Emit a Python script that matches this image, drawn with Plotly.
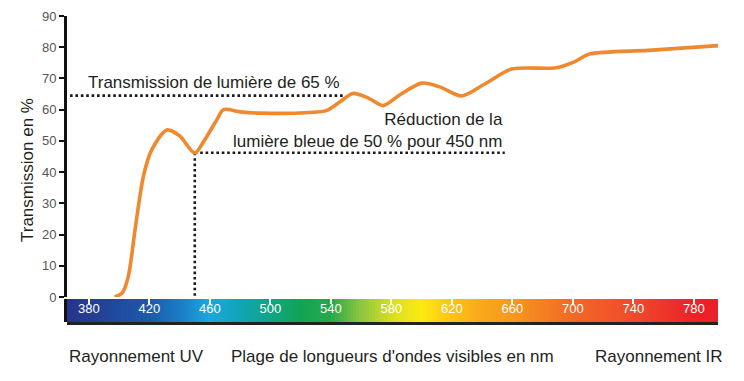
import numpy as np
import plotly.graph_objects as go

# ---- data ----
wavelength_nm = [397, 402, 406, 410.5, 416, 421.5, 431.5, 440, 450, 456.5, 464.5, 469,
                 480, 493, 526, 537, 546, 554.5, 564.5, 574.5, 585.5, 600, 612, 626.5,
                 642, 659.5, 689, 701, 711, 750, 796]
transmission_pct = [0, 1.3, 6.5, 21.5, 38.6, 47.1, 53.5, 51.6, 46.1, 50.3, 56.7, 60,
                    59.3, 58.9, 59.1, 59.7, 62.5, 65.2, 63.8, 61.3, 64.7, 68.5, 67.3, 64.4,
                    68.3, 73, 73.4, 75.3, 77.8, 79.0, 80.5]

light_line_x = [367.5, 549]
light_line_y = [64.5, 64.5]
blue_h_x = [450, 655]
blue_h_y = [46.2, 46.2]
blue_v_x = [450, 450]
blue_v_y = [46.2, 0.4]

y_ticks = [0, 10, 20, 30, 40, 50, 60, 70, 80, 90]
x_ticks = [380, 420, 460, 500, 540, 580, 620, 660, 700, 740, 780]

spectrum_nm = list(range(366, 797, 2))
spectrum_colors = [
    (366, "#27338a"), (380, "#243d93"), (420, "#1c5aa9"), (440, "#1b7cc4"),
    (460, "#1ba7df"), (480, "#11a4b6"), (500, "#0ea584"), (520, "#12a455"),
    (540, "#27a84a"), (560, "#8cc63f"), (580, "#d7df23"), (600, "#fdea10"),
    (620, "#fcc316"), (640, "#f9a81b"), (660, "#f7971d"), (700, "#f26824"),
    (740, "#ef4a2c"), (780, "#ec2227"), (796, "#e9202a"),
]

X_RANGE = [365.5, 796]
FONT = "Liberation Sans, Arial, Helvetica, sans-serif"
TXT = "#231f20"

lo, hi = spectrum_colors[0][0], spectrum_colors[-1][0]
colorscale = [[(w - lo) / (hi - lo), c] for w, c in spectrum_colors]

fig = go.Figure()

# spectrum bar
fig.add_trace(go.Heatmap(
    x=spectrum_nm, y=[0.5], z=[spectrum_nm], colorscale=colorscale,
    zmin=lo, zmax=hi, showscale=False, xaxis="x2", yaxis="y2", hoverinfo="skip",
))

dot = dict(color="#1a1a1a", width=2.6, dash="2.6px,2.8px")
fig.add_trace(go.Scatter(x=light_line_x, y=light_line_y, mode="lines", line=dot, hoverinfo="skip"))
fig.add_trace(go.Scatter(x=blue_h_x, y=blue_h_y, mode="lines", line=dot, hoverinfo="skip"))
fig.add_trace(go.Scatter(x=blue_v_x, y=blue_v_y, mode="lines", line=dot, hoverinfo="skip"))

fig.add_trace(go.Scatter(
    x=wavelength_nm, y=transmission_pct, mode="lines",
    line=dict(color="#f0892e", width=3.6, shape="spline", smoothing=0.8),
    hoverinfo="skip",
))

# the page body adds an 8px offset; the figure is sized to the remaining area
OFF = 8
W, H = 744 - OFF, 381 - OFF


def px(x):
    return (x - OFF) / W


def py(y):
    return 1 - (y - OFF) / H


xdom = [px(67), px(718)]

fig.update_layout(
    width=W, height=H, margin=dict(l=0, r=0, t=0, b=0, autoexpand=False),
    paper_bgcolor="white", plot_bgcolor="rgba(0,0,0,0)",
    showlegend=False,
    font=dict(family=FONT, color=TXT),
    xaxis=dict(domain=xdom, range=X_RANGE, visible=False, anchor="y", automargin=False),
    yaxis=dict(domain=[py(297), py(16)], range=[0, 90], tickvals=y_ticks,
               showgrid=False, zeroline=False, showline=True, linecolor="#111",
               linewidth=3, ticks="outside", ticklen=5, tickwidth=2, tickcolor="#111",
               tickfont=dict(size=13, color="#555", family=FONT), anchor="x",
               automargin=False),
    xaxis2=dict(domain=xdom, range=X_RANGE, anchor="y2", side="top",
                tickvals=x_ticks, ticks="inside", ticklen=5, tickwidth=1.5,
                tickcolor="white", ticklabelposition="inside",
                tickfont=dict(size=13, color="white", family=FONT),
                showgrid=False, zeroline=False, showline=False, automargin=False),
    yaxis2=dict(domain=[py(322), py(299)], range=[0, 1], anchor="x2",
                showgrid=False, zeroline=False, showticklabels=False,
                showline=True, linecolor="#111", linewidth=3, automargin=False),
    shapes=[dict(type="line", xref="x2 domain", yref="y2 domain",
                 x0=0, x1=1, y0=-0.06, y1=-0.06, line=dict(color="#222", width=3))],
    annotations=[
        dict(text="Transmission de lumière de 65 %", xref="paper", yref="paper",
             x=px(86), y=py(82), xanchor="left", yanchor="middle",
             showarrow=False, font=dict(size=17, color=TXT)),
        dict(text="Réduction de la<br>lumière bleue de 50 % pour 450 nm", xref="paper",
             yref="paper", x=px(505), y=py(130), xanchor="right", yanchor="middle",
             align="right", showarrow=False, font=dict(size=17, color=TXT)),
        dict(text="Transmission en %", xref="paper", yref="paper", x=px(27),
             y=py(170), textangle=-90, xanchor="center", yanchor="middle",
             showarrow=False, font=dict(size=17, color=TXT)),
        dict(text="Rayonnement UV", xref="paper", yref="paper", x=px(136),
             y=py(356), xanchor="center", yanchor="middle", showarrow=False,
             font=dict(size=17, color=TXT)),
        dict(text="Plage de longueurs d'ondes visibles en nm", xref="paper", yref="paper",
             x=px(392), y=py(356), xanchor="center", yanchor="middle",
             showarrow=False, font=dict(size=17, color=TXT)),
        dict(text="Rayonnement IR", xref="paper", yref="paper", x=px(659),
             y=py(356), xanchor="center", yanchor="middle", showarrow=False,
             font=dict(size=17, color=TXT)),
    ],
)

fig.write_html("out.html")
